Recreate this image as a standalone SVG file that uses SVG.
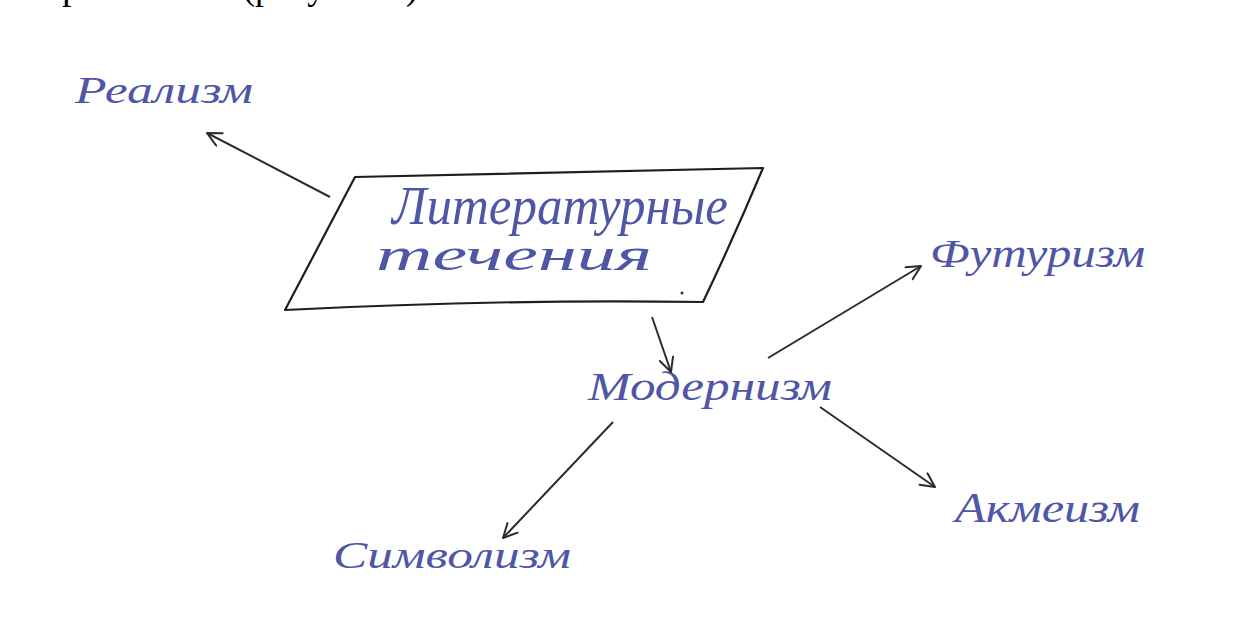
<svg xmlns="http://www.w3.org/2000/svg" width="1259" height="632" viewBox="0 0 1259 632">
<style>
.hand{font-family:"Liberation Serif","DejaVu Serif",serif;font-style:italic;fill:#4f56a6;}
.edge{stroke:#2b2b2b;stroke-width:2;fill:none;marker-end:url(#arr);}
.box{stroke:#1e1e1e;stroke-width:2.2;fill:none;stroke-linejoin:round;}
.top{font-family:"Liberation Serif","Times New Roman",serif;font-size:38px;fill:#000;}
</style>
<defs>
<marker id="arr" markerUnits="userSpaceOnUse" markerWidth="20" markerHeight="20" refX="15" refY="8" orient="auto">
<path d="M1,1 L15,8 L1,15" fill="none" stroke="#2b2b2b" stroke-width="2" stroke-linecap="round" stroke-linejoin="round"/>
</marker>
</defs>
<rect x="0" y="0" width="1259" height="632" fill="#ffffff"/>
<g id="page-top">
<text class="top" x="62" y="-1">р</text>
<text class="top" x="243" y="-1" textLength="175" lengthAdjust="spacingAndGlyphs">(рисунок 1)</text>
</g>
<g id="node-main">
<path class="box" d="M355,177 L763,168 Q735,235 703,302 Q500,299 285,310 Z"/>
<text class="hand" x="392" y="224" font-size="54" textLength="336" lengthAdjust="spacingAndGlyphs">Литературные</text>
<text class="hand" x="376" y="270" font-size="46" textLength="276" lengthAdjust="spacingAndGlyphs">течения</text>
<circle cx="682" cy="293" r="1.5" fill="#333"/>
</g>
<g id="node-realism">
<text class="hand" x="75" y="103" font-size="38" textLength="178" lengthAdjust="spacingAndGlyphs">Реализм</text>
</g>
<g id="node-modernism">
<text class="hand" x="588" y="400" font-size="40" textLength="244" lengthAdjust="spacingAndGlyphs">Модернизм</text>
</g>
<g id="node-futurism">
<text class="hand" x="930" y="267" font-size="40" textLength="215" lengthAdjust="spacingAndGlyphs">Футуризм</text>
</g>
<g id="node-symbolism">
<text class="hand" x="333" y="568" font-size="38" textLength="238" lengthAdjust="spacingAndGlyphs">Символизм</text>
</g>
<g id="node-acmeism">
<text class="hand" x="955" y="522" font-size="42" textLength="185" lengthAdjust="spacingAndGlyphs">Акмеизм</text>
</g>
<g id="connectors">
<line class="edge" x1="330" y1="197" x2="207" y2="133"/>
<line class="edge" x1="652" y1="317" x2="671" y2="372"/>
<line class="edge" x1="768" y1="358" x2="921" y2="266"/>
<line class="edge" x1="613" y1="422" x2="503" y2="538"/>
<line class="edge" x1="820" y1="407" x2="935" y2="487"/>
</g>
</svg>
